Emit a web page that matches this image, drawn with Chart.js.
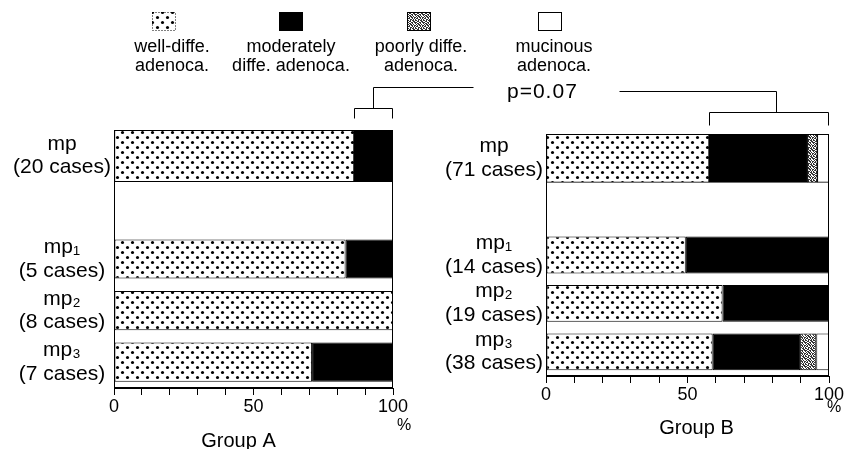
<!DOCTYPE html>
<html>
<head>
<meta charset="utf-8">
<script src="https://cdn.jsdelivr.net/npm/chart.js@4.4.1/dist/chart.umd.min.js"></script>
<style>
  body { margin: 0; background: #fff; }
  #wrap { position: relative; width: 847px; height: 449px; }
  canvas { position: absolute; top: 0; }
  #chartA { left: 0; }
  #chartB { left: 430px; }
  #overlay { left: 0; pointer-events: none; }
</style>
</head>
<body>
<div id="wrap">
  <canvas id="chartA" width="430" height="449"></canvas>
  <canvas id="chartB" width="417" height="449"></canvas>
  <canvas id="overlay" width="847" height="449"></canvas>
</div>
<script>
// legend names (two lines each)
const seriesNames = [
    ['well-diffe.', 'adenoca.'],
    ['moderately', 'diffe. adenoca.'],
    ['poorly diffe.', 'adenoca.'],
    ['mucinous', 'adenoca.']
];

// Group A (percent of cases)
const labelsA = [['mp', '(20 cases)'], '', ['mp₁', '(5 cases)'], ['mp₂', '(8 cases)'], ['mp₃', '(7 cases)']];
const wellA = [86, null, 83, 100, 71];
const modA  = [14, null, 17, 0, 29];
const poorA = [0, null, 0, 0, 0];
const mucA  = [0, null, 0, 0, 0];

// Group B
const labelsB = [['mp', '(71 cases)'], '', ['mp₁', '(14 cases)'], ['mp₂', '(19 cases)'], ['mp₃', '(38 cases)']];
const wellB = [57.6, null, 49.4, 62.4, 58.9];
const modB  = [34.8, null, 50.6, 37.6, 30.9];
const poorB = [3.5, null, 0, 0, 5.7];
const mucB  = [4.1, null, 0, 0, 4.5];

const xTickLabels = [0, 50, 100];
const pText = 'p=0.07';

const FONT = '"Liberation Sans", Arial, sans-serif';

// fills
function dotPattern() {
    const c = document.createElement('canvas');
    c.width = 10; c.height = 10;
    const g = c.getContext('2d');
    g.fillStyle = '#fff';
    g.fillRect(0, 0, 10, 10);
    g.fillStyle = '#000';
    [[2.5, 2.5], [7.5, 7.5]].forEach(([x, y]) => {
        g.beginPath();
        g.arc(x, y, 1.55, 0, Math.PI * 2);
        g.fill();
    });
    return g.createPattern(c, 'repeat');
}

function grayPattern() {
    const bits = ['10110100', '01011011', '11001010', '00110101', '10101101', '01100110', '10011011', '01101001'];
    const c = document.createElement('canvas');
    c.width = 8; c.height = 8;
    const g = c.getContext('2d');
    g.fillStyle = '#fff';
    g.fillRect(0, 0, 8, 8);
    g.fillStyle = '#333';
    bits.forEach((row, y) => {
        for (let x = 0; x < row.length; x++) {
            if (row[x] === '1') g.fillRect(x, y, 1, 1);
        }
    });
    return g.createPattern(c, 'repeat');
}

const fills = [dotPattern(), '#000', grayPattern(), '#fff'];

// frame round the plot area
const framePlugin = {
    id: 'frame',
    afterDatasetsDraw(chart) {
        const { ctx, chartArea: a } = chart;
        ctx.save();
        ctx.strokeStyle = '#000';
        ctx.lineWidth = 1;
        ctx.strokeRect(Math.round(a.left) + 0.5, Math.round(a.top) + 0.5,
            Math.round(a.right - a.left) - 1, Math.round(a.bottom - a.top) - 1);
        ctx.restore();
    }
};

// "%" and group name under the axis
const captionPlugin = {
    id: 'caption',
    afterDraw(chart, args, opts) {
        const { ctx, chartArea: a } = chart;
        ctx.save();
        ctx.fillStyle = '#000';
        ctx.textAlign = 'center';
        ctx.textBaseline = 'middle';
        ctx.font = '16px ' + FONT;
        ctx.fillText('%', a.right + opts.pctDx, a.bottom + opts.pctDy);
        ctx.font = '20px ' + FONT;
        ctx.fillText(opts.title, (a.left + a.right) / 2 + opts.titleDx, a.bottom + opts.titleDy);
        ctx.restore();
    }
};

function makeChart(id, labels, series, pad, yWidth, xHeight, caption) {
    const datasets = [];
    series.forEach((vals, k) => {
        const base = {
            label: seriesNames[k].join(' '),
            backgroundColor: fills[k],
            borderColor: '#000',
            borderWidth: 1,
            borderSkipped: false,
            categoryPercentage: 1
        };
        // first row (mp) fills its whole band, sub rows are thinner
        datasets.push(Object.assign({}, base, {
            data: vals.map((v, i) => (i === 0 && v) ? v : null),
            barPercentage: 1
        }));
        datasets.push(Object.assign({}, base, {
            data: vals.map((v, i) => (i > 0 && v) ? v : null),
            barPercentage: 0.76
        }));
    });

    return new Chart(document.getElementById(id), {
        type: 'bar',
        data: { labels: labels, datasets: datasets },
        plugins: [framePlugin, captionPlugin],
        options: {
            indexAxis: 'y',
            responsive: false,
            animation: false,
            layout: { padding: pad },
            plugins: {
                legend: { display: false },
                tooltip: { enabled: false },
                caption: caption
            },
            scales: {
                x: {
                    type: 'linear',
                    stacked: true,
                    min: 0,
                    max: 100,
                    afterFit: (s) => { s.height = xHeight; },
                    grid: { display: true, drawOnChartArea: false, drawTicks: true, tickLength: 7, color: '#000' },
                    border: { display: true, color: '#000', width: 1 },
                    ticks: {
                        stepSize: 10,
                        autoSkip: false,
                        maxRotation: 0,
                        padding: 1,
                        color: '#000',
                        font: { family: FONT, size: 18 },
                        callback: (v) => xTickLabels.includes(v) ? String(v) : ''
                    }
                },
                y: {
                    type: 'category',
                    stacked: true,
                    offset: true,
                    afterFit: (s) => { s.width = yWidth; },
                    grid: { display: false, drawTicks: false },
                    border: { display: true, color: '#000', width: 1 },
                    ticks: {
                        autoSkip: false,
                        crossAlign: 'center',
                        padding: 3,
                        color: '#000',
                        font: { family: FONT, size: 21, lineHeight: 1.12 }
                    }
                }
            }
        }
    });
}

const chartA = makeChart('chartA', labelsA, [wellA, modA, poorA, mucA],
    { top: 130, right: 37, left: 0, bottom: 0 }, 114, 61,
    { title: 'Group A', pctDx: 11, pctDy: 38, titleDx: -15, titleDy: 53 });

const chartB = makeChart('chartB', labelsB, [wellB, modB, poorB, mucB],
    { top: 134, right: 18, left: 0, bottom: 0 }, 116, 73,
    { title: 'Group B', pctDx: 5, pctDy: 32, titleDx: 9, titleDy: 52 });

// legend + p-value bracket on top
const o = document.getElementById('overlay').getContext('2d');
o.strokeStyle = '#000';
o.lineWidth = 1;
o.fillStyle = '#000';

const boxX = [152, 279, 407, 538];
const textX = [172, 291, 421, 554];
seriesNames.forEach((name, k) => {
    o.fillStyle = fills[k];
    o.fillRect(boxX[k], 12, 24, 19);
    o.save();
    if (k === 0) o.setLineDash([1, 2]);
    o.strokeRect(boxX[k] + 0.5, 12.5, 23, 18);
    o.restore();
    o.fillStyle = '#000';
    o.font = '18px ' + FONT;
    o.textAlign = 'center';
    o.textBaseline = 'alphabetic';
    o.fillText(name[0], textX[k], 52);
    o.fillText(name[1], textX[k], 71);
});

function line(pts) {
    o.beginPath();
    o.moveTo(Math.round(pts[0][0]) + 0.5, Math.round(pts[0][1]) + 0.5);
    for (let i = 1; i < pts.length; i++) o.lineTo(Math.round(pts[i][0]) + 0.5, Math.round(pts[i][1]) + 0.5);
    o.stroke();
}

const ax = chartA.scales.x, bx = chartB.scales.x;
const aL = ax.getPixelForValue(wellA[0]), aR = ax.getPixelForValue(100) - 1;
const bL = 430 + bx.getPixelForValue(wellB[0]), bR = 430 + bx.getPixelForValue(100) - 1;
const aMid = (aL + aR) / 2, bMid = (bL + bR) / 2 + 7;

line([[aL, 118], [aL, 108], [aR, 108], [aR, 118]]);
line([[aMid, 108], [aMid, 87], [473, 87]]);
line([[bL, 125], [bL, 112], [bR, 112], [bR, 125]]);
line([[bMid, 112], [bMid, 91], [619, 91]]);

o.font = '21px ' + FONT;
o.letterSpacing = '1px';
o.textAlign = 'left';
o.fillText(pText, 507, 98);
</script>
</body>
</html>
